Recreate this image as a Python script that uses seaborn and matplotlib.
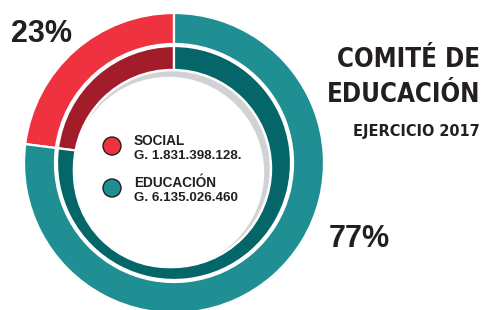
import matplotlib
matplotlib.use('Agg')
import matplotlib.pyplot as plt
import seaborn as sns
from matplotlib.patches import Circle

# data
categories = ['SOCIAL', 'EDUCACIÓN']
amounts = [1831398128, 6135026460]
amount_labels = ['G. 1.831.398.128.', 'G. 6.135.026.460']
pct_labels = ['23%', '77%']
outer_colors = ['#EE323F', '#1F8F94']
inner_colors = ['#A31C2A', '#05666A']

sns.set_theme(style='white')
plt.rcParams['font.family'] = ['Liberation Sans', 'DejaVu Sans']

W, H = 484, 310
fig = plt.figure(figsize=(W / 100, H / 100), dpi=100)
ax = fig.add_axes([0, 0, 1, 1])


def py(y):
    # pixel row -> data y
    return H - y


cx, cy = 174, py(163)

# outer ring
ax.pie(amounts, colors=outer_colors, startangle=90, counterclock=True,
       radius=150, center=(cx, cy), frame=True,
       wedgeprops=dict(width=31, edgecolor='white', linewidth=1.6))
# inner ring (full disc, hole drawn on top)
ax.pie(amounts, colors=inner_colors, startangle=90, counterclock=True,
       radius=117, center=(cx, cy), frame=True,
       wedgeprops=dict(edgecolor='white', linewidth=1.6))
ax.set_xlim(0, W)
ax.set_ylim(0, H)
ax.set_aspect('equal')
ax.axis('off')

# hole with grey shadow crescent
ax.add_patch(Circle((172.5, py(168.5)), 99, color='white', zorder=5))
ax.add_patch(Circle((172.5, py(168.5)), 96.5, color='#D1D2D4', zorder=6))
ax.add_patch(Circle((168.5, py(172.5)), 95, color='white', zorder=7))

# legend
dark = '#231F20'
for i, (cat, lab) in enumerate(zip(categories, amount_labels)):
    yc = 146 + 42 * i
    ax.add_patch(Circle((112, py(yc)), 9, facecolor=outer_colors[i],
                        edgecolor=dark, linewidth=1.0, zorder=8))
    ax.text(134, py(yc - 1), cat, fontsize=9.8, fontweight='bold',
            color=dark, va='baseline', ha='left', zorder=9)
    ax.text(134, py(yc + 13), lab, fontsize=9.6, fontweight='bold',
            color=dark, va='baseline', ha='left', zorder=9)

# percentages
ax.text(11, py(42), pct_labels[0], fontsize=22, fontweight='bold',
        color=dark, va='baseline', ha='left')
ax.text(329, py(247), pct_labels[1], fontsize=22, fontweight='bold',
        color=dark, va='baseline', ha='left')

# title
narrow = ['DejaVu Sans Condensed', 'Liberation Sans Narrow', 'DejaVu Sans']
ax.text(480, py(67), 'COMITÉ DE', fontsize=18.5, fontweight='bold',
        family=narrow, stretch='condensed', color=dark, va='baseline', ha='right')
ax.text(480, py(102), 'EDUCACIÓN', fontsize=18.5, fontweight='bold',
        family=narrow, stretch='condensed', color=dark, va='baseline', ha='right')
ax.text(480, py(136), 'EJERCICIO 2017', fontsize=11.6, fontweight='bold',
        family=narrow, stretch='condensed', color=dark, va='baseline', ha='right')

fig.savefig('out.png', dpi=100, facecolor='white')
